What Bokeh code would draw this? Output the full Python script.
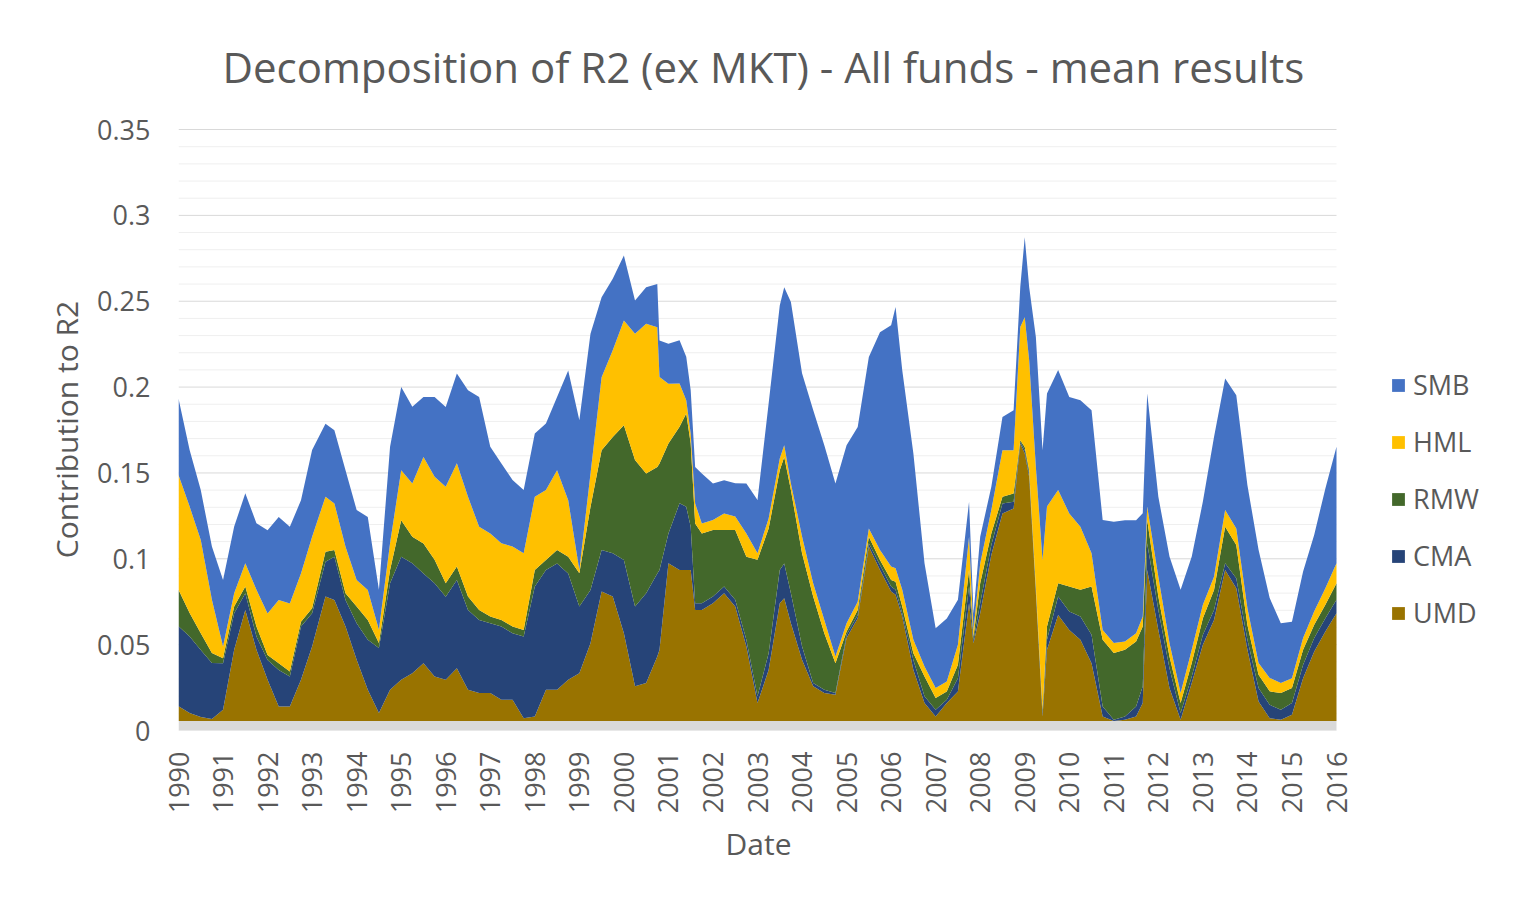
import math
from bokeh.plotting import figure
from bokeh.models import ColumnDataSource, Range1d, FixedTicker, Legend, LegendItem, Title
from bokeh.embed import file_html
from bokeh.resources import INLINE

FONT = "Open Sans"
TXT = "#595959"

# ---------------- data ----------------
dates = [
    1990.00, 1990.25, 1990.50, 1990.75, 1991.00,
    1991.25, 1991.50, 1991.75, 1992.00, 1992.25,
    1992.50, 1992.75, 1993.00, 1993.30, 1993.50,
    1993.75, 1994.00, 1994.25, 1994.50, 1994.75,
    1995.00, 1995.25, 1995.50, 1995.75, 1996.00,
    1996.25, 1996.50, 1996.75, 1997.00, 1997.25,
    1997.50, 1997.75, 1998.00, 1998.25, 1998.50,
    1998.75, 1999.00, 1999.25, 1999.50, 1999.75,
    2000.00, 2000.25, 2000.50, 2000.75, 2000.80,
    2001.00, 2001.25, 2001.40, 2001.50, 2001.60,
    2001.75, 2002.00, 2002.25, 2002.50, 2002.75,
    2003.00, 2003.25, 2003.50, 2003.60, 2003.75,
    2004.00, 2004.25, 2004.50, 2004.75, 2005.00,
    2005.25, 2005.50, 2005.75, 2006.00, 2006.10,
    2006.25, 2006.50, 2006.75, 2007.00, 2007.25,
    2007.50, 2007.75, 2007.85, 2008.00, 2008.25,
    2008.50, 2008.75, 2008.90, 2009.00, 2009.10,
    2009.25, 2009.40, 2009.50, 2009.75, 2010.00,
    2010.25, 2010.50, 2010.75, 2011.00, 2011.25,
    2011.50, 2011.65, 2011.75, 2012.00, 2012.25,
    2012.50, 2012.75, 2013.00, 2013.25, 2013.50,
    2013.75, 2014.00, 2014.25, 2014.50, 2014.75,
    2015.00, 2015.25, 2015.50, 2015.75, 2016.00,
]

UMD = [
    .0086, .0047, .0023, .0012, .0066,
    .0415, .0647, .0415, .0240, .0085,
    .0085, .0240, .0434, .0725, .0705,
    .0550, .0357, .0182, .0047, .0182,
    .0240, .0279, .0337, .0260, .0240,
    .0308, .0182, .0163, .0163, .0124,
    .0124, .0017, .0027, .0182, .0182,
    .0240, .0279, .0453, .0754, .0725,
    .0512, .0202, .0221, .0376, .0415,
    .0919, .0880, .0880, .0880, .0647,
    .0647, .0686, .0744, .0667, .0434,
    .0105, .0298, .0686, .0715, .0570,
    .0357, .0202, .0163, .0153, .0483,
    .0599, .1016, .0880, .0754, .0735,
    .0609, .0298, .0105, .0027, .0105,
    .0172, .0686, .0453, .0628, .0967,
    .1209, .1238, .1616, .1558, .1422,
    .0744, .0027, .0415, .0618, .0531,
    .0473, .0337, .0027, .0000, .0008,
    .0027, .0105, .0880, .0531, .0192,
    .0008, .0221, .0444, .0589, .0880,
    .0773, .0415, .0114, .0017, .0008,
    .0037, .0250, .0405, .0521, .0628,
]

CMA = [
    .0466, .0446, .0391, .0326, .0271,
    .0213, .0097, .0078, .0116, .0213,
    .0174, .0310, .0194, .0203, .0252,
    .0155, .0213, .0291, .0378, .0620,
    .0717, .0640, .0523, .0543, .0484,
    .0514, .0465, .0426, .0407, .0426,
    .0388, .0475, .0756, .0698, .0736,
    .0620, .0388, .0310, .0242, .0252,
    .0426, .0465, .0523, .0484, .0465,
    .0174, .0388, .0368, .0252, .0039,
    .0039, .0039, .0039, .0039, .0039,
    .0039, .0097, .0194, .0203, .0174,
    .0078, .0019, .0019, .0010, .0019,
    .0019, .0019, .0029, .0029, .0029,
    .0019, .0058, .0039, .0039, .0019,
    .0078, .0097, .0019, .0058, .0058,
    .0058, .0039, .0010, .0019, .0019,
    .0019, .0019, .0058, .0107, .0107,
    .0136, .0165, .0058, .0008, .0019,
    .0058, .0097, .0155, .0116, .0116,
    .0039, .0039, .0058, .0058, .0039,
    .0058, .0058, .0078, .0078, .0058,
    .0068, .0078, .0078, .0078, .0078,
]

RMW = [
    .0213, .0136, .0097, .0058, .0029,
    .0039, .0039, .0058, .0029, .0039,
    .0029, .0029, .0029, .0058, .0039,
    .0039, .0097, .0116, .0029, .0078,
    .0213, .0155, .0174, .0136, .0078,
    .0078, .0078, .0058, .0039, .0039,
    .0039, .0039, .0097, .0058, .0078,
    .0097, .0194, .0484, .0581, .0678,
    .0785, .0853, .0698, .0620, .0620,
    .0523, .0446, .0543, .0484, .0465,
    .0407, .0388, .0329, .0407, .0484,
    .0795, .0727, .0581, .0620, .0601,
    .0543, .0504, .0329, .0174, .0019,
    .0029, .0039, .0029, .0039, .0048,
    .0039, .0039, .0116, .0068, .0048,
    .0078, .0097, .0019, .0116, .0068,
    .0039, .0048, .0010, .0019, .0019,
    .0019, .0019, .0078, .0078, .0145,
    .0155, .0281, .0388, .0388, .0388,
    .0378, .0349, .0136, .0078, .0068,
    .0058, .0078, .0097, .0116, .0213,
    .0194, .0087, .0078, .0078, .0097,
    .0087, .0087, .0078, .0078, .0097,
]

HML = [
    .0668, .0620, .0543, .0310, .0068,
    .0078, .0136, .0213, .0242, .0368,
    .0397, .0281, .0417, .0320, .0271,
    .0271, .0155, .0174, .0078, .0155,
    .0291, .0310, .0504, .0484, .0562,
    .0601, .0581, .0484, .0484, .0446,
    .0465, .0446, .0426, .0407, .0465,
    .0329, .0019, .0194, .0426, .0504,
    .0610, .0736, .0872, .0814, .0504,
    .0349, .0252, .0078, .0058, .0116,
    .0058, .0058, .0097, .0078, .0136,
    .0039, .0058, .0068, .0068, .0039,
    .0097, .0078, .0078, .0039, .0048,
    .0048, .0048, .0058, .0078, .0078,
    .0097, .0078, .0058, .0058, .0058,
    .0116, .0194, .0039, .0116, .0136,
    .0271, .0252, .0659, .0756, .0640,
    .0698, .0872, .0698, .0543, .0426,
    .0368, .0194, .0058, .0058, .0048,
    .0048, .0058, .0078, .0116, .0078,
    .0058, .0078, .0078, .0078, .0097,
    .0097, .0097, .0068, .0078, .0058,
    .0058, .0068, .0078, .0097, .0116,
]

SMB = [
    .0446, .0329, .0291, .0310, .0388,
    .0388, .0407, .0388, .0484, .0484,
    .0446, .0426, .0504, .0426, .0426,
    .0446, .0407, .0426, .0233, .0562,
    .0484, .0446, .0349, .0465, .0465,
    .0523, .0620, .0756, .0504, .0465,
    .0388, .0368, .0368, .0388, .0426,
    .0756, .0872, .0814, .0465, .0417,
    .0378, .0194, .0213, .0252, .0213,
    .0233, .0252, .0252, .0252, .0213,
    .0291, .0213, .0194, .0194, .0291,
    .0310, .0669, .0891, .0921, .1056,
    .0950, .1008, .1017, .1008, .1037,
    .1017, .0998, .1269, .1405, .1521,
    .1279, .1085, .0601, .0349, .0368,
    .0262, .0203, .0097, .0155, .0136,
    .0194, .0233, .0233, .0465, .0426,
    .0756, .0640, .0659, .0698, .0678,
    .0736, .0833, .0640, .0707, .0707,
    .0659, .0601, .0659, .0465, .0504,
    .0601, .0543, .0601, .0814, .0766,
    .0775, .0717, .0659, .0465, .0349,
    .0329, .0388, .0446, .0581, .0678,
]

FLOOR_BAND = 0.0055   # light grey band under the stack

year_ticks = list(range(1990, 2017))
y_ticks = [0, 0.05, 0.1, 0.15, 0.2, 0.25, 0.3, 0.35]
y_labels = ["0", "0.05", "0.1", "0.15", "0.2", "0.25", "0.3", "0.35"]
y_minor = [i / 100 for i in range(36) if i % 5]

series_names = ["UMD", "CMA", "RMW", "HML", "SMB"]
series_colors = ["#997300", "#264478", "#43682B", "#FFC000", "#4472C4"]

# ---------------- layout ----------------
W, H = 1510, 900
BL, BR, BT, BB = 178, 10, 128, 170
PLOT_W = 1158                       # width of the dated plot area
FRAME_W = W - BL - BR               # frame also holds the legend on its right
X0, X1 = year_ticks[0], year_ticks[-1]
X_END = X0 + (X1 - X0) * FRAME_W / PLOT_W

src = ColumnDataSource(dict(date=dates, FLOOR=[FLOOR_BAND] * len(dates),
                            UMD=UMD, CMA=CMA, RMW=RMW, HML=HML, SMB=SMB))

p = figure(width=W, height=H, output_backend="svg", toolbar_location=None,
           x_range=Range1d(X0, X_END), y_range=Range1d(0, 0.3506),
           min_border_left=BL, min_border_right=BR,
           min_border_top=BT, min_border_bottom=BB)

# horizontal gridlines limited to the dated area
p.segment(x0=[X0] * len(y_minor), x1=[X1] * len(y_minor), y0=y_minor, y1=y_minor,
          line_color="#EFEFEF", line_width=1, level="underlay")
p.segment(x0=[X0] * len(y_ticks), x1=[X1] * len(y_ticks), y0=y_ticks, y1=y_ticks,
          line_color="#D9D9D9", line_width=1, level="underlay")

rends = p.varea_stack(stackers=["FLOOR"] + series_names, x="date",
                      color=["#D9D9D9"] + series_colors, source=src)

p.title.text = "Decomposition of R2 (ex MKT) - All funds - mean results"
p.title.align = "left"
p.title.offset = 44
p.title.text_font = FONT
p.title.text_font_size = "42px"
p.title.text_font_style = "normal"
p.title.text_color = TXT
p.title.standoff = 68

p.outline_line_color = None
p.background_fill_color = "white"
p.xgrid.grid_line_color = None
p.ygrid.grid_line_color = None

# axes
for ax in (p.xaxis[0], p.yaxis[0]):
    ax.axis_line_color = None
    ax.major_tick_line_color = None
    ax.minor_tick_line_color = None
    ax.major_label_text_font = FONT
    ax.major_label_text_font_size = "27px"
    ax.major_label_text_color = TXT
    ax.axis_label_text_font = FONT
    ax.axis_label_text_font_size = "30px"
    ax.axis_label_text_font_style = "normal"
    ax.axis_label_text_color = TXT

p.yaxis.ticker = FixedTicker(ticks=y_ticks, minor_ticks=y_minor)
p.yaxis.major_label_overrides = dict(zip(y_ticks, y_labels))
p.yaxis.major_label_standoff = 22
p.yaxis.axis_label = "Contribution to R2"
p.yaxis.axis_label_standoff = 7

p.xaxis.ticker = FixedTicker(ticks=year_ticks)
p.xaxis.major_label_overrides = {y: str(y) for y in year_ticks}
p.xaxis.major_label_orientation = math.pi / 2
p.xaxis.major_label_standoff = 15

# x-axis title, centred under the dated area
x_title = Title(text="Date", align="left", offset=547, standoff=8,
                text_font=FONT, text_font_size="30px", text_font_style="normal",
                text_color=TXT)
p.add_layout(x_title, "below")

# legend, to the right of the dated area
items = [LegendItem(label=name, renderers=[rends[i + 1]])
         for i, name in enumerate(series_names)][::-1]
legend = Legend(items=items, location=(PLOT_W + 54, 99), orientation="vertical")
legend.glyph_width = 16
legend.glyph_height = 16
legend.label_standoff = 7
legend.label_height = 30
legend.spacing = 20
legend.padding = 0
legend.margin = 0
legend.border_line_color = None
legend.background_fill_alpha = 0
legend.label_text_font = FONT
legend.label_text_font_size = "27px"
legend.label_text_color = TXT
p.add_layout(legend, "center")

open("out.html", "w").write(file_html(p, INLINE))
